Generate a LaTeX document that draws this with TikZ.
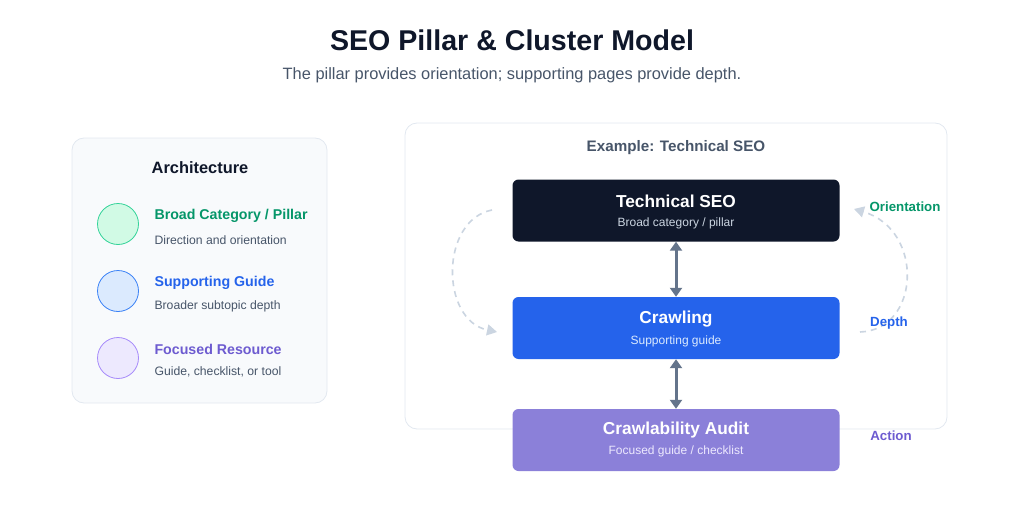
\documentclass[tikz,border=0pt]{standalone}
\usepackage{fontspec}
\setmainfont{Liberation Sans}
\usetikzlibrary{arrows.meta}
\definecolor{ink}{HTML}{0F172A}
\definecolor{sub}{HTML}{475569}
\definecolor{gry}{HTML}{475569}
\definecolor{grn}{HTML}{059669}
\definecolor{blu}{HTML}{2563EB}
\definecolor{pur}{HTML}{6D5BD0}
\definecolor{bord}{HTML}{E2E8F0}
\definecolor{dashc}{HTML}{CBD5E1}
\definecolor{arr}{HTML}{64748B}
\tikzset{
  panel/.style={draw=bord, line width=0.8pt, rounded corners=12pt},
  box/.style={rounded corners=6pt, minimum width=327pt, minimum height=62pt, inner sep=0pt},
  btitle/.style={font=\bfseries\fontsize{17.3}{20}\selectfont, text=white},
  bsub/.style={font=\fontsize{12}{14}\selectfont},
  circ/.style={circle, minimum size=41pt, line width=0.8pt, inner sep=0pt},
  lab/.style={anchor=west, font=\bfseries\fontsize{14.2}{16}\selectfont},
  lsub/.style={anchor=west, font=\fontsize{12.2}{14}\selectfont, text=gry},
  dsh/.style={draw=dashc, line width=1.6pt, dash pattern=on 6pt off 5pt, -{Triangle[length=10pt,width=11pt]}},
  dbl/.style={draw=arr, line width=3pt, {Triangle[length=9pt,width=12pt]}-{Triangle[length=9pt,width=12pt]}},
  side/.style={font=\bfseries\fontsize{13.3}{15}\selectfont}
}
\begin{document}
\begin{tikzpicture}[x=1pt,y=-1pt]
\useasboundingbox (0,0) rectangle (1024,532);
\node[font=\bfseries\fontsize{28.6}{32}\selectfont, text=ink] (title) at (512,40) {SEO Pillar \& Cluster Model};
\node[font=\fontsize{16.4}{19}\selectfont, text=gry] (subt) at (512,75) {The pillar provides orientation; supporting pages provide depth.};
% left panel
\draw[panel, fill={rgb,255:red,248;green,250;blue,252}] (72,138) rectangle (327,403);
\node[font=\bfseries\fontsize{16.4}{19}\selectfont, text=ink] (arch) at (200,168) {Architecture};
\node[circ, fill={rgb,255:red,209;green,250;blue,229}, draw={rgb,255:red,52;green,211;blue,153}] (c1) at (118,224) {};
\node[circ, fill={rgb,255:red,219;green,234;blue,254}, draw={rgb,255:red,59;green,130;blue,246}] (c2) at (118,291) {};
\node[circ, fill={rgb,255:red,237;green,233;blue,254}, draw={rgb,255:red,167;green,139;blue,250}] (c3) at (118,358) {};
\node[lab, text=grn] (l1) at (151,216) {Broad Category / Pillar};
\node[lsub] (s1) at (151,240) {Direction and orientation};
\node[lab, text=blu] (l2) at (151,283) {Supporting Guide};
\node[lsub] (s2) at (151,306) {Broader subtopic depth};
\node[lab, text=pur] (l3) at (151,349) {Focused Resource};
\node[lsub] (s3) at (151,372) {Guide, checklist, or tool};
% right panel
\draw[panel, fill=white] (405,123) rectangle (947,429);
\node[font=\bfseries\fontsize{15.2}{18}\selectfont, text=sub] (ex) at (676,148) {Example: Technical SEO};
\node[box, fill=ink] (b1) at (676,210.5) {};
\node[btitle] at (676,201) {Technical SEO};
\node[bsub, text={rgb,255:red,203;green,213;blue,225}] at (676,223) {Broad category / pillar};
\node[box, fill=blu] (b2) at (676,328) {};
\node[btitle] at (676,319) {Crawling};
\node[bsub, text={rgb,255:red,219;green,234;blue,254}] at (676,341) {Supporting guide};
\node[box, fill={rgb,255:red,139;green,128;blue,217}] (b3) at (676,440) {};
\node[btitle] at (676,430) {Crawlability Audit};
\node[bsub, text={rgb,255:red,237;green,233;blue,254}] at (676,451) {Focused guide / checklist};
\draw[dbl] (b1.south) -- (b2.north);
\draw[dbl] (b2.south) -- (b3.north);
\coordinate (la) at (492,210);
\coordinate (lb) at (497,332);
\draw[dsh] (la) .. controls (440,220) and (440,320) .. (lb);
\coordinate (ra) at (860,332);
\coordinate (rb) at (854,209);
\draw[dsh] (ra) .. controls (920,330) and (925,230) .. (rb);
\node[side, text=grn] at (905,207) {Orientation};
\node[side, text=blu] at (889,323) {Depth};
\node[side, text=pur] at (891,436) {Action};
\end{tikzpicture}
\end{document}
